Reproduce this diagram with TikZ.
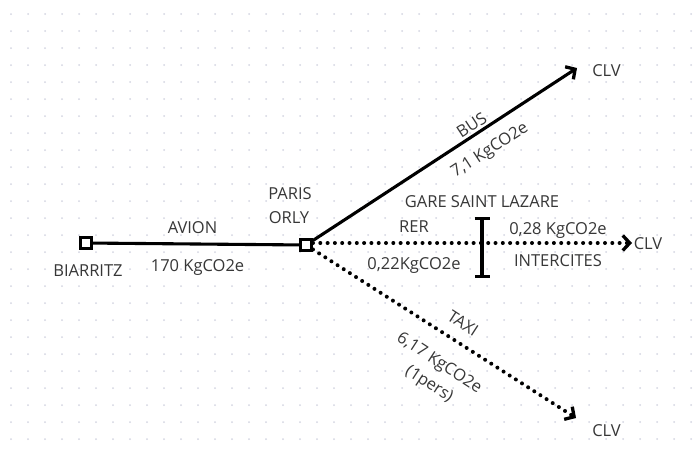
\documentclass[tikz,border=0pt]{standalone}
\usepackage{fontspec}
\setmainfont{Open Sans}
\usetikzlibrary{arrows.meta}
\definecolor{txt}{RGB}{55,55,55}
\definecolor{griddot}{RGB}{212,214,226}
\tikzset{
  lbl/.style={inner sep=0pt, text height=12pt, text depth=0pt, font=\fontsize{16.5}{19}\selectfont, text=txt, align=center},
  station/.style={draw=black, line width=3pt, fill=white, rectangle, minimum size=11pt, inner sep=0pt},
  solidline/.style={line width=3.1pt, black},
  dotline/.style={line width=4pt, black, line cap=round, dash pattern=on 0pt off 7.3pt},
  tip/.style={-{Straight Barb[length=7pt,width=15pt,line width=3.3pt]}},
}
\begin{document}
\begin{tikzpicture}[x=1pt,y=-1pt]
\useasboundingbox (0,0) rectangle (700,455);
\fill[white] (0,0) rectangle (700,455);
% dot grid
\foreach \i in {0,...,40} {
  \foreach \j in {0,...,25} {
    \fill[griddot] ({11+17*\i},{14+17*\j}) circle (1pt);
  }
}
% stations
\node[station] (biarritz) at (86,243) {};
\node[station] (orly) at (306,245) {};
% end points
\coordinate (bustip) at (577,68);
\coordinate (rertip) at (632,243);
\coordinate (taxitip) at (576,418);
\coordinate (ibartop) at (482,217);
\coordinate (ibarbot) at (482,278);
% connectors
\draw[solidline] (biarritz) -- (orly);
\draw[solidline, tip] (orly) -- (bustip);
\draw[dotline, tip] (orly.east |- rertip) -- (rertip);
\draw[dotline, tip] (orly) -- (taxitip);
\draw[line width=3.2pt, {Bar[width=15pt]}-{Bar[width=15pt]}] (ibartop) -- (ibarbot);
% labels
\node[lbl] (lbiarritz) at (88,270) {BIARRITZ};
\node[lbl] (lavion) at (192.5,227) {AVION};
\node[lbl] (lavionco) at (197.5,265) {170 KgCO2e};
\node[lbl] (lparis) at (290,193) {PARIS};
\node[lbl] (lorly) at (289,217) {ORLY};
\node[lbl, rotate=33] (lbus) at (471.5,125) {BUS};
\node[lbl, rotate=33] (lbusco) at (489,149) {7,1 KgCO2e};
\node[lbl] (lclv1) at (606.5,70) {CLV};
\node[lbl] (lgare) at (482,201) {GARE SAINT LAZARE};
\node[lbl] (lrer) at (414,226) {RER};
\node[lbl] (lrerco) at (414,263) {0,22KgCO2e};
\node[lbl] (linterco) at (558,228) {0,28 KgCO2e};
\node[lbl] (linter) at (558,260) {INTERCITES};
\node[lbl] (lclv2) at (648,243) {CLV};
\node[lbl, rotate=-33] (ltaxi) at (463,323) {TAXI};
\node[lbl, rotate=-33] (ltaxico) at (440,362) {6,17 KgCO2e};
\node[lbl, rotate=-33] (ltaxip) at (430,383) {(1pers)};
\node[lbl] (lclv3) at (606.5,430) {CLV};
\end{tikzpicture}
\end{document}
